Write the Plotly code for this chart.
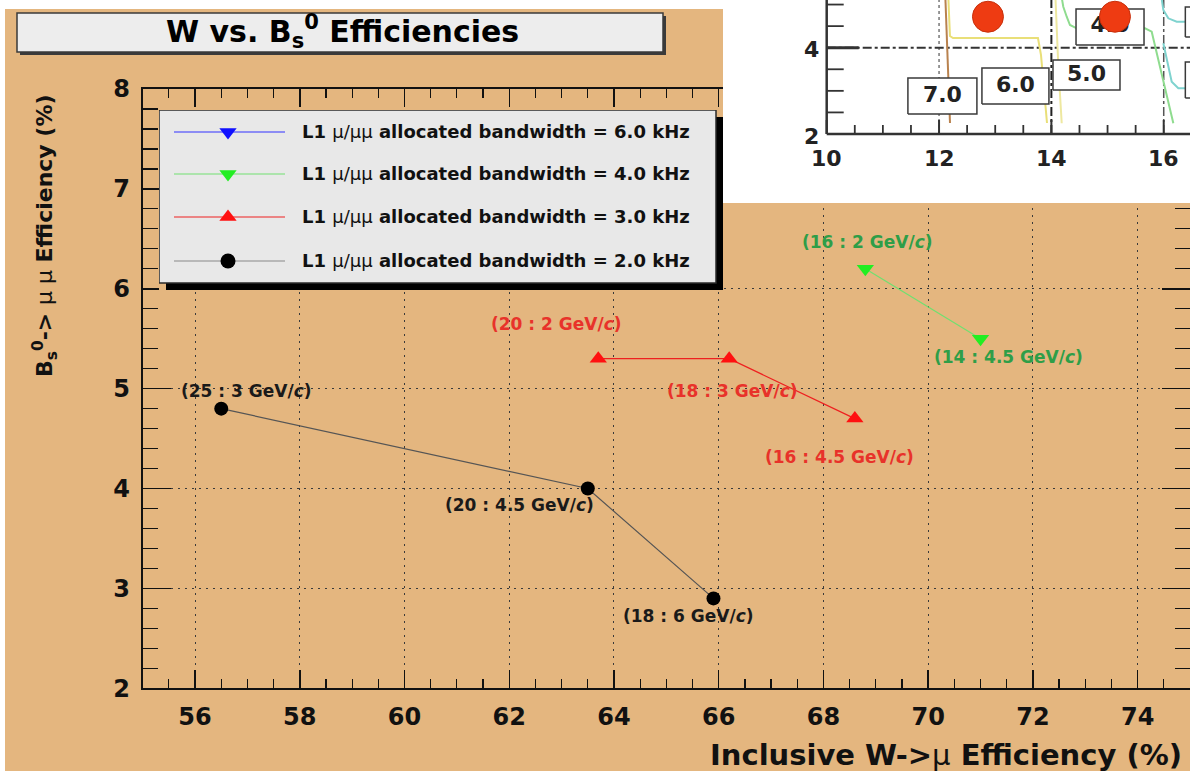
import plotly.graph_objects as go

W, H = 1190, 771
FONT = "DejaVu Sans"
TAN = "#e4b67f"

# ---------------- main chart data ----------------
bandwidths = ["6.0", "4.0", "3.0", "2.0"]

x_6k, y_6k = [], []

x_4k = [68.8, 71.0]
y_4k = [6.2, 5.5]
lbl_4k = ["(16 : 2 GeV/<i>c</i>)", "(14 : 4.5 GeV/<i>c</i>)"]

x_3k = [63.7, 66.2, 68.6]
y_3k = [5.3, 5.3, 4.7]
lbl_3k = ["(20 : 2 GeV/<i>c</i>)", "(18 : 3 GeV/<i>c</i>)", "(16 : 4.5 GeV/<i>c</i>)"]

x_2k = [56.5, 63.5, 65.9]
y_2k = [4.8, 4.0, 2.9]
lbl_2k = ["(25 : 3 GeV/<i>c</i>)", "(20 : 4.5 GeV/<i>c</i>)", "(18 : 6 GeV/<i>c</i>)"]

x_tickvals = [56, 58, 60, 62, 64, 66, 68, 70, 72, 74]
y_tickvals = [2, 3, 4, 5, 6, 7, 8]

# label offsets in pixels (position info, kept apart from data)
off_4k = [(2, 27), (28, -18)]
off_3k = [(-42, 35), (3, -32), (-15, -38)]
off_2k = [(25, 18), (-68, -16), (-25, -18)]

# ---------------- inset (fragment of another plot) data ----------------
in_xticklabels = [10, 12, 14, 16]
in_yticklabels = [2, 4]
in_xminor = [10.5, 11, 11.5, 12.5, 13, 13.5, 14.5, 15, 15.5, 16.5]
in_yminor = [2.5, 3, 3.5, 4.5, 5]

brown_x = [12.106, 12.142, 12.195]
brown_y = [5.4, 3.947, 2.255]
yellow1_x = [12.158, 12.194, 12.248, 13.761, 13.815, 13.922]
yellow1_y = [5.4, 4.271, 4.225, 4.225, 3.831, 2.255]
yellow2_x = [14.065, 14.095, 14.124, 14.184]
yellow2_y = [5.4, 4.256, 3.56, 2.248]
green_x = [14.153, 14.212, 14.273, 14.331, 14.451, 15.667, 15.786, 15.993, 16.171]
green_y = [5.4, 4.95, 4.718, 4.526, 4.449, 4.449, 4.371, 3.251, 2.248]
cyan1_x = [15.934, 15.993, 16.082, 16.231, 16.6]
cyan1_y = [5.4, 4.874, 4.681, 4.603, 4.603]
cyan2_x = [15.993, 16.053, 16.142, 16.26, 16.6]
cyan2_y = [4.102, 3.715, 3.212, 3.059, 3.059]

circle_x = [12.871, 15.132]
circle_y = [4.718, 4.718]

box_text = ["7.0", "6.0", "5.0", "4.0"]
box_cx = [12.06, 13.36, 14.625, 15.044]
box_cy = [2.88, 3.11, 3.367, 4.48]
box_wpx = [69, 67, 67, 68]
box_hpx = [36, 36, 30, 36]
edge_box_cx = [16.99, 16.99]
edge_box_cy = [4.595, 3.25]
edge_box_hpx = [30, 36]

# ---------------- geometry (pixels) ----------------
PLOT_L, PLOT_R, PLOT_T, PLOT_B = 142.7, 1190, 89, 688.3
BG_L, BG_T = 5, 9
INSET_L, INSET_B = 723, 203
IN_X0_PX, IN_PXU_X = 826.7, 56.17   # pixel of x=10, px per unit
IN_Y0_PX, IN_PXU_Y = 134.0, 43.15   # pixel of y=2, px per unit
X2MIN = 10 - (IN_X0_PX - INSET_L) / IN_PXU_X
X2MAX = 10 + (W - IN_X0_PX) / IN_PXU_X
Y2MIN = 2 - (INSET_B - IN_Y0_PX) / IN_PXU_Y
Y2MAX = 2 + IN_Y0_PX / IN_PXU_Y

LEG_L, LEG_R, LEG_T, LEG_B, LEG_SH = 159, 716, 110, 283, 7
LEG_ROWS = [132, 174, 217, 261]
LEG_LINE = (174, 285)
LEG_MARK = 228
LEG_TEXT = 300


def fx(s):
    return s / W


def fy(s):
    return 1 - s / H


fig = go.Figure()

# ---------------- main traces ----------------
series = [
    (x_2k, y_2k, "#555555", "#000000", "circle", 14, lbl_2k, off_2k, "#1a1a1a"),
    (x_3k, y_3k, "#ee2020", "#ff1010", "triangle-up", 15, lbl_3k, off_3k, "#e8322a"),
    (x_4k, y_4k, "#70e070", "#22ee22", "triangle-down", 15, lbl_4k, off_4k, "#2e9e48"),
    (x_6k, y_6k, "#3030ff", "#1010ff", "triangle-down", 15, [], [], "#1010ff"),
]
for xs, ys, lc, mc, sym, ms, lbls, offs, tc in series:
    fig.add_trace(go.Scatter(x=xs, y=ys, mode="lines+markers",
                             line=dict(color=lc, width=1.2),
                             marker=dict(color=mc, symbol=sym, size=ms, line=dict(width=0)),
                             xaxis="x", yaxis="y", hoverinfo="skip"))
    for xv, yv, t, (dx, dy) in zip(xs, ys, lbls, offs):
        fig.add_annotation(x=xv, y=yv, xref="x", yref="y", text=t, showarrow=False,
                           xanchor="center", yanchor="middle", xshift=dx, yshift=dy,
                           font=dict(family=FONT, size=17, color=tc, weight="bold"))

# ---------------- inset traces ----------------
for xs, ys, c in [(brown_x, brown_y, "#b9824e"), (yellow1_x, yellow1_y, "#e9df78"),
                  (yellow2_x, yellow2_y, "#eee8a0"), (green_x, green_y, "#8fdc8f"),
                  (cyan1_x, cyan1_y, "#7fd3cf"), (cyan2_x, cyan2_y, "#7fd3cf")]:
    fig.add_trace(go.Scatter(x=xs, y=ys, mode="lines", line=dict(color=c, width=2),
                             xaxis="x2", yaxis="y2", hoverinfo="skip"))


def add_box(cx, cy, wp, hp):
    hw, hh = wp / 2 / IN_PXU_X, hp / 2 / IN_PXU_Y
    fig.add_trace(go.Scatter(x=[cx - hw, cx + hw, cx + hw, cx - hw, cx - hw],
                             y=[cy - hh, cy - hh, cy + hh, cy + hh, cy - hh],
                             mode="lines", fill="toself", fillcolor="white",
                             line=dict(color="#3a3a3a", width=1.5),
                             xaxis="x2", yaxis="y2", hoverinfo="skip"))


for cx, cy, wp, hp in zip(box_cx, box_cy, box_wpx, box_hpx):
    add_box(cx, cy, wp, hp)
for cx, cy, hp in zip(edge_box_cx, edge_box_cy, edge_box_hpx):
    add_box(cx, cy, 68, hp)
fig.add_trace(go.Scatter(x=box_cx, y=box_cy, mode="text", text=box_text,
                         textfont=dict(family=FONT, size=22, color="#222222", weight="bold"),
                         xaxis="x2", yaxis="y2", hoverinfo="skip"))
fig.add_trace(go.Scatter(x=circle_x, y=circle_y, mode="markers",
                         marker=dict(color="#ee3b12", size=31, line=dict(color="#c8300c", width=1)),
                         xaxis="x2", yaxis="y2", hoverinfo="skip"))

# ---------------- legend (manual, ROOT style) ----------------
leg_styles = [("#3030ff", "#1010ff", "triangle-down"), ("#70e070", "#22ee22", "triangle-down"),
              ("#ee2020", "#ff1010", "triangle-up"), ("#888888", "#000000", "circle")]
for (lc, mc, sym), ry, bw in zip(leg_styles, LEG_ROWS, bandwidths):
    fig.add_trace(go.Scatter(x=list(LEG_LINE), y=[ry, ry], mode="lines",
                             line=dict(color=lc, width=1.2), xaxis="x3", yaxis="y3", hoverinfo="skip"))
    fig.add_trace(go.Scatter(x=[LEG_MARK], y=[ry], mode="markers",
                             marker=dict(color=mc, symbol=sym, size=15),
                             xaxis="x3", yaxis="y3", hoverinfo="skip"))
    fig.add_annotation(x=LEG_TEXT, y=ry, xref="x3", yref="y3", xanchor="left", yanchor="middle",
                       showarrow=False,
                       text="L1 <span style='font-weight:normal'>μ/μμ</span> allocated bandwidth = %s kHz" % bw,
                       font=dict(family=FONT, size=18, color="#111111", weight="bold"))

# ---------------- shapes ----------------
shapes = []
# tan page background (white strip at top/left as in the original)
shapes.append(dict(type="rect", xref="paper", yref="paper", x0=fx(BG_L), x1=1.01, y0=-0.01, y1=fy(BG_T),
                   fillcolor=TAN, line=dict(width=0), layer="below"))
# title box with shadow
shapes.append(dict(type="rect", xref="paper", yref="paper", x0=fx(20), x1=fx(666), y0=fy(55), y1=fy(16),
                   fillcolor="#3a3a3a", line=dict(width=0), layer="below"))
shapes.append(dict(type="rect", xref="paper", yref="paper", x0=fx(17), x1=fx(663), y0=fy(52), y1=fy(13),
                   fillcolor="#ededed", line=dict(color="#3a3a3a", width=1.5), layer="below"))
# inset white background
shapes.append(dict(type="rect", xref="x2", yref="y2", x0=X2MIN - 1, x1=X2MAX + 1, y0=Y2MIN - 1, y1=Y2MAX + 1,
                   fillcolor="white", line=dict(width=0), layer="below"))
# inset grid lines
shapes.append(dict(type="line", xref="x2", yref="y2", x0=12, x1=12, y0=2, y1=Y2MAX + 1,
                   line=dict(color="#555555", width=1.2, dash="dot"), layer="below"))
shapes.append(dict(type="line", xref="x2", yref="y2", x0=14, x1=14, y0=2, y1=Y2MAX + 1,
                   line=dict(color="#222222", width=2, dash="dashdot"), layer="below"))
shapes.append(dict(type="line", xref="x2", yref="y2", x0=16, x1=16, y0=2, y1=Y2MAX + 1,
                   line=dict(color="#555555", width=1.5, dash="dashdot"), layer="below"))
shapes.append(dict(type="line", xref="x2", yref="y2", x0=10, x1=X2MAX + 1, y0=4, y1=4,
                   line=dict(color="#333333", width=2, dash="dashdot"), layer="below"))
shapes.append(dict(type="line", xref="x2", yref="y2", x0=10, x1=10 + 32 / IN_PXU_X, y0=4, y1=4,
                   line=dict(color="#333333", width=3), layer="below"))
# inset axes
shapes.append(dict(type="line", xref="x2", yref="y2", x0=10, x1=10, y0=2, y1=Y2MAX + 1,
                   line=dict(color="#333333", width=2.5), layer="below"))
shapes.append(dict(type="line", xref="x2", yref="y2", x0=10, x1=X2MAX + 1, y0=2, y1=2,
                   line=dict(color="#333333", width=2.5), layer="below"))
for v in in_xminor:
    shapes.append(dict(type="line", xref="x2", yref="y2", x0=v, x1=v, y0=2, y1=2 + 9 / IN_PXU_Y,
                       line=dict(color="#333333", width=1.8), layer="below"))
for v in in_xticklabels:
    shapes.append(dict(type="line", xref="x2", yref="y2", x0=v, x1=v, y0=2, y1=2 + 14 / IN_PXU_Y,
                       line=dict(color="#333333", width=2), layer="below"))
for v in in_yminor:
    shapes.append(dict(type="line", xref="x2", yref="y2", x0=10, x1=10 + 17 / IN_PXU_X, y0=v, y1=v,
                       line=dict(color="#333333", width=1.8), layer="below"))
# legend shadow + box
shapes.append(dict(type="rect", xref="x3", yref="y3", x0=LEG_L + LEG_SH, x1=LEG_R + LEG_SH,
                   y0=LEG_T + LEG_SH, y1=LEG_B + LEG_SH, fillcolor="#000000", line=dict(width=0), layer="below"))
shapes.append(dict(type="rect", xref="x3", yref="y3", x0=LEG_L, x1=LEG_R, y0=LEG_T, y1=LEG_B,
                   fillcolor="#e8e8e8", line=dict(color="#2a2a2a", width=1.5), layer="below"))

# ---------------- text annotations ----------------
fig.add_annotation(x=fx(342), y=fy(32), xref="paper", yref="paper", showarrow=False,
                   xanchor="center", yanchor="middle",
                   text="W vs. B<sub>s</sub><sup>0</sup> Efficiencies",
                   font=dict(family=FONT, size=30, color="#000000", weight="bold"))
fig.add_annotation(x=fx(1184), y=fy(755), xref="paper", yref="paper", showarrow=False,
                   xanchor="right", yanchor="middle",
                   text="Inclusive W-><span style='font-weight:normal'>μ</span> Efficiency (%)",
                   font=dict(family=FONT, size=29, color="#111111", weight="bold"))
fig.add_annotation(x=fx(45), y=fy(236), xref="paper", yref="paper", showarrow=False,
                   textangle=-90, xanchor="center", yanchor="middle",
                   text="B<sub>s</sub><sup>0</sup>-> <span style='font-weight:normal'>μ μ</span> Efficiency (%)",
                   font=dict(family=FONT, size=22, color="#111111", weight="bold"))
# inset tick labels
for v in in_xticklabels:
    fig.add_annotation(x=v, y=2 - 24 / IN_PXU_Y, xref="x2", yref="y2", showarrow=False,
                       xanchor="center", yanchor="middle",
                       text=str(v), font=dict(family=FONT, size=22, color="#222222", weight="bold"))
for v in in_yticklabels:
    fig.add_annotation(x=10 - 15 / IN_PXU_X, y=v - 2 / IN_PXU_Y, xref="x2", yref="y2", showarrow=False,
                       xanchor="center", yanchor="middle",
                       text=str(v), font=dict(family=FONT, size=22, color="#222222", weight="bold"))

axis_common = dict(showline=True, linecolor="#111111", linewidth=2, mirror="ticks",
                   ticks="inside", tickcolor="#111111", tickwidth=1.5,
                   showgrid=True, gridcolor="#3a3a3a", gridwidth=1, griddash="2px,5px",
                   zeroline=False, automargin=False,
                   tickfont=dict(family=FONT, size=24, color="#111111", weight="bold"))

fig.update_layout(
    width=W, height=H, margin=dict(l=0, r=0, t=0, b=0),
    paper_bgcolor="white", plot_bgcolor=TAN, showlegend=False,
    shapes=shapes,
    xaxis=dict(domain=[fx(PLOT_L), fx(PLOT_R)], range=[55, 75], tickvals=x_tickvals, ticklen=18,
               ticklabelstandoff=6,
               minor=dict(dtick=0.5, tick0=55, ticks="inside", ticklen=9, tickcolor="#111111", tickwidth=1.2,
                          showgrid=False),
               anchor="y", **axis_common),
    yaxis=dict(domain=[fy(PLOT_B), fy(PLOT_T)], range=[2, 8], tickvals=y_tickvals, ticklen=28,
               ticklabelstandoff=6,
               minor=dict(dtick=0.2, tick0=2, ticks="inside", ticklen=15, tickcolor="#111111", tickwidth=1.2,
                          showgrid=False),
               anchor="x", **axis_common),
    xaxis2=dict(domain=[fx(INSET_L), 1], range=[X2MIN, X2MAX], visible=False, anchor="y2"),
    yaxis2=dict(domain=[fy(INSET_B), 1], range=[Y2MIN, Y2MAX], visible=False, anchor="x2"),
    xaxis3=dict(domain=[fx(LEG_L), fx(LEG_R + LEG_SH)], range=[LEG_L, LEG_R + LEG_SH], visible=False, anchor="y3"),
    yaxis3=dict(domain=[fy(LEG_B + LEG_SH), fy(LEG_T)], range=[LEG_B + LEG_SH, LEG_T], visible=False, anchor="x3"),
)

# remove the browser's default 8px body margin so the figure fills the window exactly
fig.write_html("out.html",
               config={"displayModeBar": False, "staticPlot": True},
               post_script="document.body.style.margin='0';document.body.style.overflow='hidden';")
